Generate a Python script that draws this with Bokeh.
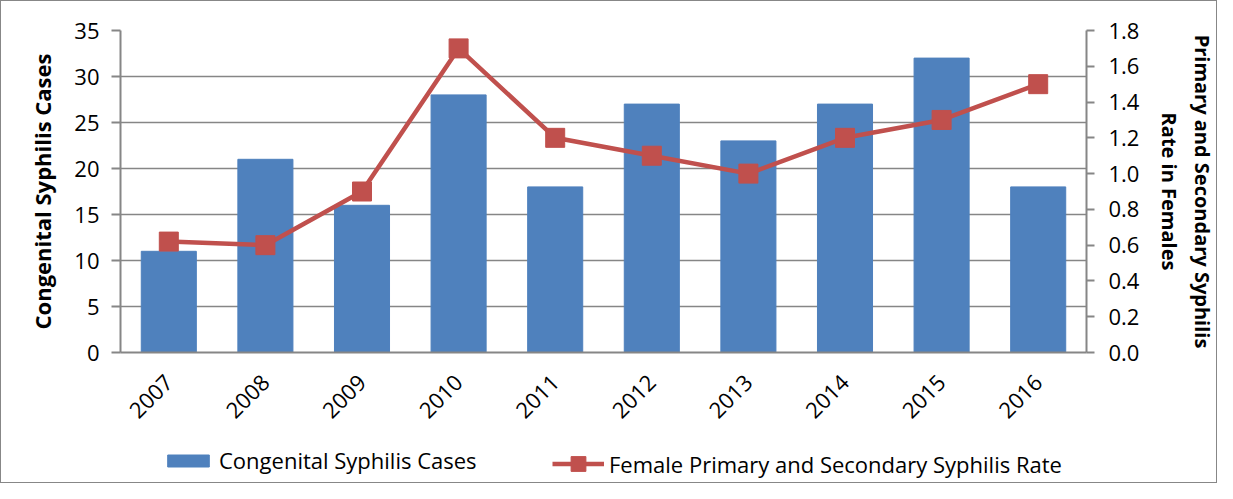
import math
from bokeh.plotting import figure
from bokeh.layouts import column
from bokeh.models import (ColumnDataSource, FactorRange, Range1d, LinearAxis,
                          SingleIntervalTicker, NumeralTickFormatter, Legend,
                          LegendItem)
from bokeh.embed import file_html
from bokeh.resources import INLINE

years = ["2007", "2008", "2009", "2010", "2011", "2012", "2013", "2014", "2015", "2016"]
cases = [11, 21, 16, 28, 18, 27, 23, 27, 32, 18]
rate = [0.62, 0.60, 0.90, 1.70, 1.20, 1.10, 1.00, 1.20, 1.30, 1.50]
bar_name = "Congenital Syphilis Cases"
line_name = "Female Primary and Secondary Syphilis Rate"

BLUE = "#4F81BD"
RED = "#C0504D"
GRAY = "#868686"
BORDER = "1.5px solid #878787"
FONT = "Open Sans"

src = ColumnDataSource(dict(year=years, cases=cases, rate=rate))

p = figure(width=1217, height=431, x_range=FactorRange(*years),
           y_range=Range1d(0, 35), output_backend="svg", toolbar_location=None,
           min_border_left=119, min_border_top=29, min_border_right=126,
           min_border_bottom=80)
p.styles = {"border": BORDER, "border-bottom": "none", "box-sizing": "border-box"}
p.outline_line_color = None
p.extra_y_ranges = {"rate": Range1d(0, 1.8)}

p.vbar(x="year", top="cases", width=0.57, source=src,
       fill_color=BLUE, line_color=BLUE)
p.line(x="year", y="rate", source=src, y_range_name="rate",
       line_color=RED, line_width=4.5)
p.scatter(x="year", y="rate", source=src, y_range_name="rate",
          marker="square", size=19, fill_color=RED, line_color=RED)

# grid
p.xgrid.grid_line_color = None
p.ygrid.grid_line_color = GRAY
p.ygrid.grid_line_width = 1.5
p.ygrid.ticker = SingleIntervalTicker(interval=5)

# left axis
ya = p.yaxis[0]
ya.ticker = SingleIntervalTicker(interval=5)
ya.axis_label = "Congenital Syphilis Cases"
ya.axis_label_text_font = FONT
ya.axis_label_text_font_style = "bold"
ya.axis_label_text_font_size = "22px"
ya.axis_label_text_color = "black"
ya.axis_label_standoff = 14
ya.major_label_text_font = FONT
ya.major_label_text_font_size = "22px"
ya.major_label_text_color = "black"
ya.major_label_standoff = 12
ya.axis_line_color = GRAY
ya.axis_line_width = 2
ya.major_tick_line_color = GRAY
ya.major_tick_line_width = 2
ya.major_tick_in = 0
ya.major_tick_out = 9
ya.minor_tick_line_color = None

# right axis
ra = LinearAxis(y_range_name="rate", ticker=SingleIntervalTicker(interval=0.2),
                formatter=NumeralTickFormatter(format="0.0"))
ra.axis_label = "Primary and Secondary Syphilis\nRate in Females"
ra.axis_label_text_font = FONT
ra.axis_label_text_font_style = "bold"
ra.axis_label_text_font_size = "20px"
ra.axis_label_text_color = "black"
ra.axis_label_standoff = 14
ra.major_label_text_font = FONT
ra.major_label_text_font_size = "22px"
ra.major_label_text_color = "black"
ra.major_label_standoff = 14
ra.axis_line_color = GRAY
ra.axis_line_width = 2
ra.major_tick_line_color = GRAY
ra.major_tick_line_width = 2
ra.major_tick_in = 0
ra.major_tick_out = 8
ra.minor_tick_line_color = None
p.add_layout(ra, "right")

# x axis
xa = p.xaxis[0]
xa.major_label_orientation = math.pi / 4
xa.major_label_text_font = FONT
xa.major_label_text_font_size = "22px"
xa.major_label_text_color = "black"
xa.major_label_standoff = 20
xa.axis_line_color = GRAY
xa.axis_line_width = 2
xa.major_tick_line_color = None
xa.minor_tick_line_color = None

# legend strip (separate figure below the chart); its renderers use the
# same data but lie far outside its view, so only the legend shows
q = figure(width=1217, height=52, x_range=FactorRange(*years),
           y_range=Range1d(100, 101), x_axis_type=None, y_axis_type=None,
           output_backend="svg", toolbar_location=None, min_border=0)
q.styles = {"border": BORDER, "border-top": "none", "box-sizing": "border-box"}
q.outline_line_color = None
q.xgrid.grid_line_color = None
q.ygrid.grid_line_color = None
lb = q.vbar(x="year", top="cases", width=0.57, source=src,
            fill_color=BLUE, line_color=BLUE)
ll = q.line(x="year", y="rate", source=src, line_color=RED, line_width=4.5)
lm = q.scatter(x="year", y="rate", source=src, marker="square", size=19,
               fill_color=RED, line_color=RED)

common = dict(orientation="horizontal", label_text_font=FONT,
              label_text_font_size="22px", label_text_color="black",
              label_standoff=5, padding=0, margin=0, border_line_color=None,
              background_fill_alpha=0, glyph_width=52)
leg1 = Legend(items=[LegendItem(label=bar_name, renderers=[lb])],
              location=(42, 8), glyph_height=15, **common)
leg2 = Legend(items=[LegendItem(label=line_name, renderers=[ll, lm])],
              location=(432, 1), glyph_height=37, **common)
q.add_layout(leg1, "center")
q.add_layout(leg2, "center")

open("out.html", "w").write(file_html(column(p, q, spacing=0), INLINE))
